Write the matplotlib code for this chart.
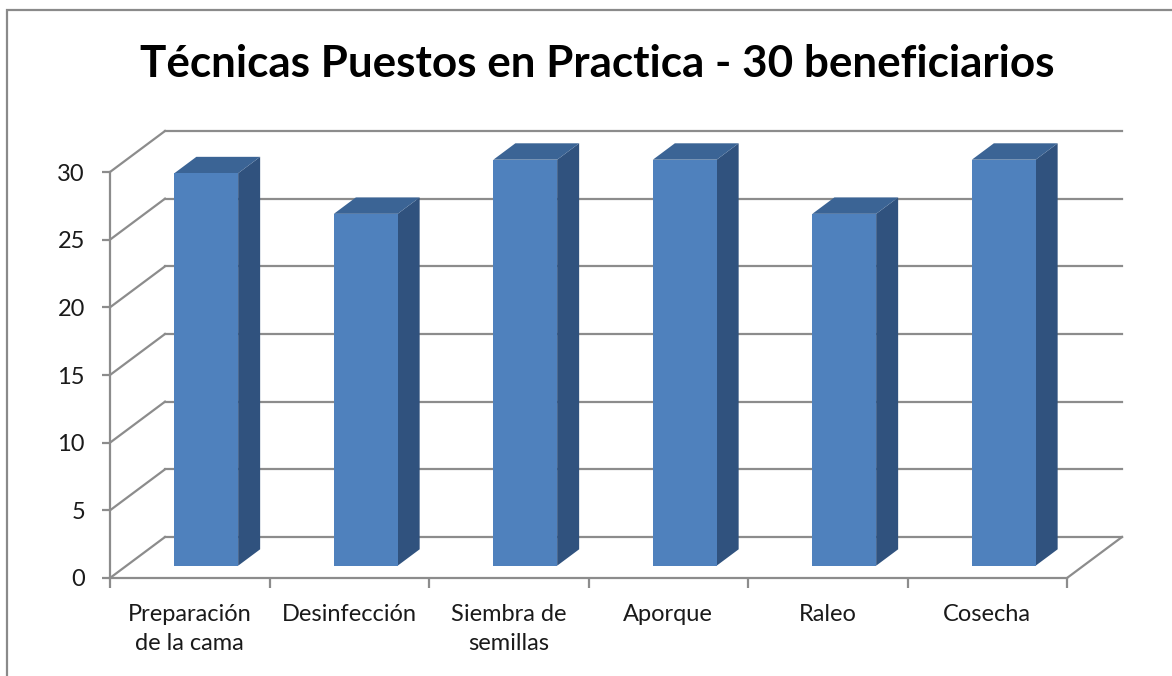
import numpy as np
import matplotlib
matplotlib.use("Agg")
import matplotlib.pyplot as plt
from matplotlib.patches import Polygon, Rectangle

plt.rcParams['font.family'] = ['Lato', 'DejaVu Sans']

# data
categories = ['Preparación\nde la cama', 'Desinfección', 'Siembra de\nsemillas',
              'Aporque', 'Raleo', 'Cosecha']
values = [29, 26, 30, 30, 26, 30]
yticks = [0, 5, 10, 15, 20, 25, 30]
title = 'Técnicas Puestos en Practica - 30 beneficiarios'

W, H = 1172, 676
fig = plt.figure(figsize=(W / 100, H / 100), dpi=100)
ax = fig.add_axes([110 / W, 98 / H, 957 / W, 406 / H])
ax.set_xlim(0, len(categories))
ax.set_ylim(0, 30)
ax.patch.set_visible(False)

# depth offset of the back wall, in pixels
DX, DY = 55, 41
grid_c = '#8c8c8c'


def proj(x, y, d):
    p = ax.transData.transform((x, y)) + np.array([DX * d, DY * d])
    return ax.transData.inverted().transform(p)


# back wall gridlines + left wall diagonals
n = len(categories)
for v in yticks:
    a, b = proj(0, v, 1), proj(n, v, 1)
    ax.plot([a[0], b[0]], [a[1], b[1]], color=grid_c, lw=1.6, clip_on=False, zorder=1)
    c = proj(0, v, 0)
    ax.plot([c[0], a[0]], [c[1], a[1]], color=grid_c, lw=1.6, clip_on=False, zorder=1)
# right floor edge
a, b = proj(n, 0, 0), proj(n, 0, 1)
ax.plot([a[0], b[0]], [a[1], b[1]], color=grid_c, lw=1.6, clip_on=False, zorder=1)

# 3d bars
front_c, top_c, side_c = '#4f81bd', '#3b6495', '#30527e'
bw, d0, d1 = 0.4, 0.3, 0.7
for i, v in enumerate(values):
    x0, x1 = i + 0.5 - bw / 2, i + 0.5 + bw / 2
    front = [proj(x0, 0, d0), proj(x1, 0, d0), proj(x1, v, d0), proj(x0, v, d0)]
    top = [proj(x0, v, d0), proj(x1, v, d0), proj(x1, v, d1), proj(x0, v, d1)]
    side = [proj(x1, 0, d0), proj(x1, 0, d1), proj(x1, v, d1), proj(x1, v, d0)]
    for verts, col in [(side, side_c), (top, top_c), (front, front_c)]:
        ax.add_patch(Polygon(verts, closed=True, facecolor=col, edgecolor='none',
                             clip_on=False, zorder=3))

# axes styling
for s in ['top', 'right']:
    ax.spines[s].set_visible(False)
for s in ['left', 'bottom']:
    ax.spines[s].set_color(grid_c)
    ax.spines[s].set_linewidth(1.6)
    ax.spines[s].set_zorder(2)

ax.set_yticks(yticks)
ax.tick_params(axis='y', length=6, width=1.6, color=grid_c, pad=12,
               labelsize=17, labelcolor='#1a1a1a')
ax.set_xticks(range(n + 1))
ax.set_xticklabels([])
ax.set_xticks(np.arange(n) + 0.5, minor=True)
ax.set_xticklabels(categories, minor=True)
ax.tick_params(axis='x', which='major', length=7, width=1.6, color=grid_c, direction='out')
ax.tick_params(axis='x', which='minor', length=0, pad=19, labelsize=17,
               labelcolor='#1a1a1a')
for t in ax.get_xticklabels(minor=True):
    t.set_linespacing(1.45)

fig.text(597 / W, 1 - 64 / H, title, ha='center', va='center',
         fontsize=31.7, fontweight='bold', color='black')

# chart border
fig.patches.append(Rectangle((7 / W, -0.1), 1.2, 1 - 10 / H + 0.1, transform=fig.transFigure,
                             facecolor='none', edgecolor='#8a8a8a', lw=1.6))

fig.savefig('out.png', dpi=100)
